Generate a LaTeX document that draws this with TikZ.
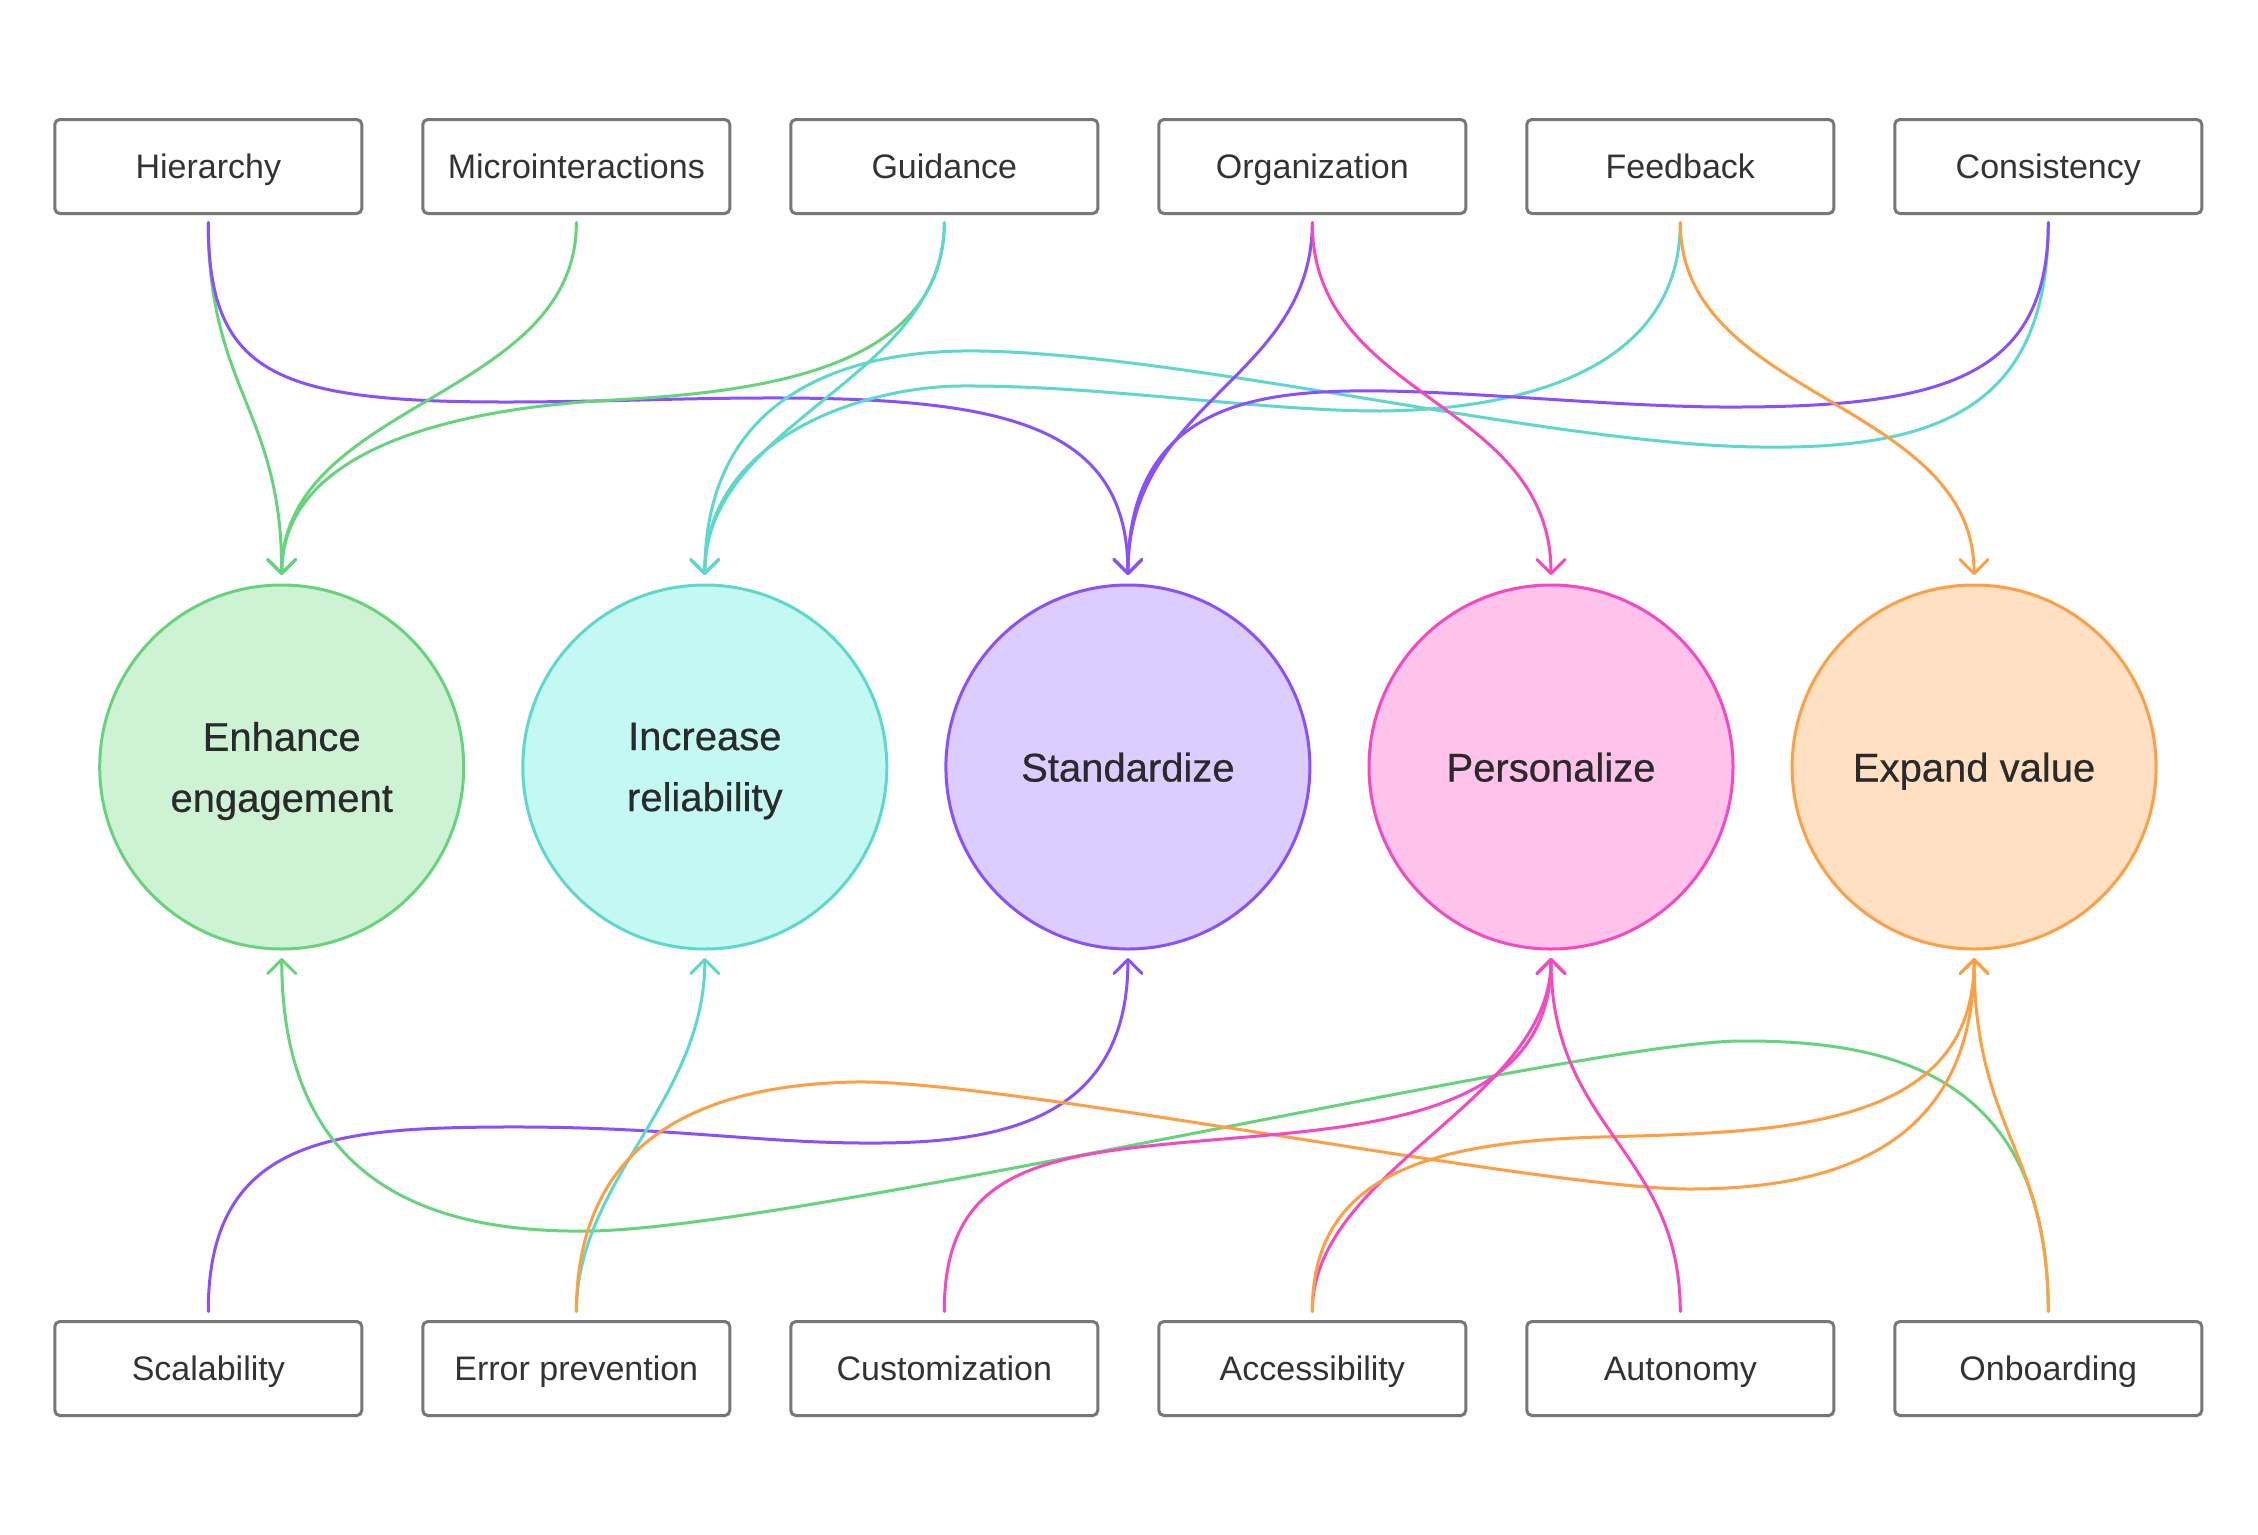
\documentclass[tikz,border=0pt]{standalone}
\usepackage{fontspec}
\setmainfont{Liberation Sans}
\newfontfamily\medfont[FakeBold=0.5]{Liberation Sans}
\usetikzlibrary{arrows.meta}
\definecolor{gS}{HTML}{66D47A}\definecolor{gF}{HTML}{CDF3D4}
\definecolor{cS}{HTML}{5DD8CC}\definecolor{cF}{HTML}{C4F8F3}
\definecolor{pS}{HTML}{8A50FF}\definecolor{pF}{HTML}{DCCCFF}
\definecolor{kS}{HTML}{F748C4}\definecolor{kF}{HTML}{FFC2EB}
\definecolor{oS}{HTML}{FF9F43}\definecolor{oF}{HTML}{FFE0C2}
\definecolor{boxgray}{HTML}{777777}
\definecolor{txt}{HTML}{333333}
\definecolor{txtb}{HTML}{2A2A2A}
\begin{document}
\begin{tikzpicture}[x=1pt,y=-1pt,
  box/.style={draw=boxgray, line width=3pt, rounded corners=5pt, minimum width=307pt,
    minimum height=94pt, inner sep=0pt, outer sep=0pt, fill=white, text=txt,
    text height=24pt, text depth=1pt,
    font=\fontsize{34}{40}\selectfont},
  goal/.style={circle, line width=3pt, minimum size=364pt, inner sep=0pt, outer sep=0pt,
    align=center, text=txtb, font=\medfont\fontsize{40}{61}\selectfont},
  oneline/.style={text height=29pt, text depth=0pt},
  twoline/.style={yshift=-4pt},
  conn/.style={line width=3pt, line cap=round},
  tip/.style={-{Straight Barb[length=14pt,width=28pt,round]}},
  down/.style={conn, tip, shorten <=9pt, shorten >=10pt},
  up/.style={conn, tip, shorten <=10pt, shorten >=9pt}]
\useasboundingbox (0,0) rectangle (2258,1534);
\fill[white] (0,0) rectangle (2258,1534);

% top boxes
\node[box] (hier)  at (208.3,166.5)  {Hierarchy};
\node[box] (micro) at (576.3,166.5)  {Microinteractions};
\node[box] (guid)  at (944.3,166.5)  {Guidance};
\node[box] (org)   at (1312.3,166.5) {Organization};
\node[box] (feed)  at (1680.3,166.5) {Feedback};
\node[box] (cons)  at (2048.3,166.5) {Consistency};
% bottom boxes
\node[box] (scal) at (208.3,1368.5)  {Scalability};
\node[box] (errp) at (576.3,1368.5)  {Error prevention};
\node[box] (cust) at (944.3,1368.5)  {Customization};
\node[box] (acc)  at (1312.3,1368.5) {Accessibility};
\node[box] (aut)  at (1680.3,1368.5) {Autonomy};
\node[box] (onb)  at (2048.3,1368.5) {Onboarding};
% goals
\node[goal, draw=gS, fill=gF] (eng)  at (281.7,767)  {};
\node[goal, draw=cS, fill=cF] (rel)  at (704.8,767)  {};
\node[goal, draw=pS, fill=pF, oneline] (std)  at (1127.9,767) {Standardize};
\node[goal, draw=kS, fill=kF, oneline] (pers) at (1551,767)   {Personalize};
\node[goal, draw=oS, fill=oF, oneline] (exp)  at (1974.1,767) {Expand value};
\node[goal, twoline, draw=none, fill=none, minimum size=0pt] (englbl) at (eng.center) {Enhance\\engagement};
\node[goal, twoline, draw=none, fill=none, minimum size=0pt] (rellbl) at (rel.center) {Increase\\reliability};

% top connectors
\draw[down, gS] (hier.south) .. controls (208,390) and (282,410) .. (eng.north);
\draw[down, pS] (hier.south) .. controls (208,400) and (300,408) .. (640,400)
   .. controls (960,392) and (1128,400) .. (std.north);
\draw[down, gS] (micro.south) .. controls (577,400) and (282,400) .. (eng.north);
\draw[down, gS] (guid.south) .. controls (944,370) and (760,392) .. (613,400)
   .. controls (480,407) and (282,440) .. (eng.north);
\draw[down, cS] (guid.south) .. controls (944,380) and (705,420) .. (rel.north);
\draw[down, cS] (feed.south) .. controls (1680,380) and (1500,410) .. (1380,411)
   .. controls (1260,411) and (1100,385) .. (960,386)
   .. controls (860,387) and (705,440) .. (rel.north);
\draw[down, cS] (cons.south) .. controls (2048,400) and (1950,450) .. (1760,447)
   .. controls (1550,445) and (1200,355) .. (980,351)
   .. controls (870,349) and (705,380) .. (rel.north);
\draw[down, pS] (cons.south) .. controls (2048,380) and (1940,408) .. (1720,407)
   .. controls (1600,406) and (1450,389) .. (1350,391)
   .. controls (1250,393) and (1128,410) .. (std.north);
\draw[down, pS] (org.south) .. controls (1312,380) and (1128,400) .. (std.north);
\draw[down, kS] (org.south) .. controls (1312,400) and (1551,400) .. (pers.north);
\draw[down, oS] (feed.south) .. controls (1680,400) and (1974,400) .. (exp.north);

% bottom connectors
\draw[up, pS] (scal.north) .. controls (208,1140) and (330,1128) .. (500,1127)
   .. controls (670,1126) and (760,1144) .. (880,1143)
   .. controls (1000,1142) and (1128,1120) .. (std.south);
\draw[up, gS] (onb.north) .. controls (2048,1080) and (1900,1040) .. (1740,1041)
   .. controls (1580,1042) and (800,1228) .. (590,1231)
   .. controls (400,1234) and (282,1160) .. (eng.south);
\draw[up, cS] (errp.north) .. controls (577,1180) and (705,1100) .. (rel.south);
\draw[up, oS] (errp.north) .. controls (577,1140) and (700,1085) .. (855,1082)
   .. controls (1000,1079) and (1540,1189) .. (1690,1189)
   .. controls (1860,1189) and (1974,1130) .. (exp.south);
\draw[up, kS] (cust.north) .. controls (944,1170) and (1040,1155) .. (1200,1141)
   .. controls (1360,1127) and (1551,1120) .. (pers.south);
\draw[up, kS] (acc.north) .. controls (1312,1170) and (1551,1100) .. (pers.south);
\draw[up, oS] (acc.north) .. controls (1312,1180) and (1420,1142) .. (1600,1137)
   .. controls (1780,1132) and (1974,1130) .. (exp.south);
\draw[up, kS] (aut.north) .. controls (1680,1150) and (1551,1130) .. (pers.south);
\draw[up, oS] (onb.north) .. controls (2048,1150) and (1974,1130) .. (exp.south);
\end{tikzpicture}
\end{document}
